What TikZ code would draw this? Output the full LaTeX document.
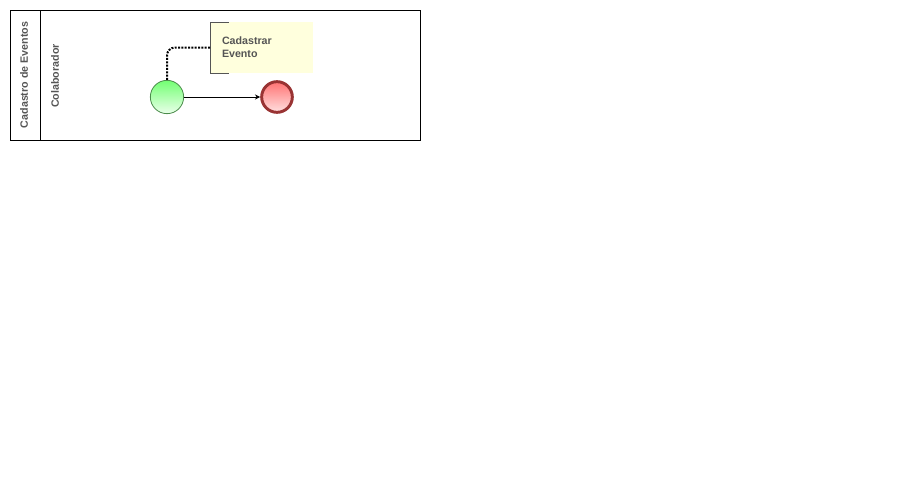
\documentclass[tikz,border=0pt]{standalone}
\usepackage{fontspec}
\setmainfont{Liberation Sans}
\usetikzlibrary{arrows.meta}

\definecolor{textocinza}{HTML}{555555}
\definecolor{bordaverde}{HTML}{4C8C4C}
\definecolor{bordavermelha}{HTML}{993333}
\definecolor{notaamarela}{HTML}{FFFFDD}

\tikzset{
    rotulo/.style={font=\bfseries\fontsize{8pt}{9.5pt}\selectfont, text=textocinza},
    evento/.style={circle, draw, inner sep=0pt},
}

\begin{document}
\begin{tikzpicture}[x=0.75pt, y=-0.75pt]
    \useasboundingbox (0,0) rectangle (911,479);

    % Pool e raia
    \draw[line width=0.75pt] (10,10) rectangle (420,140);
    \draw[line width=0.75pt] (40,10) -- (40,140);
    \node[rotulo, rotate=90] (pool) at (24,75) {Cadastro de Eventos};
    \node[rotulo, rotate=90] (raia) at (55,76) {Colaborador};

    % Eventos
    \node[evento, minimum size=25pt, draw=bordaverde, line width=0.6pt,
          top color=green!55!white, bottom color=green!8!white] (inicio) at (167,97) {};
    \node[evento, minimum size=23pt, draw=bordavermelha, line width=2.2pt,
          top color=red!55!white, bottom color=red!12!white] (fim) at (277,97) {};

    % Anotacao
    \node[rotulo, fill=notaamarela, minimum width=76.5pt, minimum height=38pt,
          text width=60pt, inner xsep=8pt, align=left] (nota) at (262,47.5)
          {Cadastrar\\Evento};
    \draw[textocinza, line width=0.6pt] ([xshift=13.5pt]nota.north west)
        -- (nota.north west) -- (nota.south west) -- ([xshift=13.5pt]nota.south west);

    % Conectores
    \draw[-{Stealth[length=4pt, width=4pt]}, line width=0.6pt] (inicio) -- (fim);
    \draw[densely dotted, line width=1.5pt, rounded corners=6pt] (inicio.north) |- (nota.west);

\end{tikzpicture}
\end{document}
